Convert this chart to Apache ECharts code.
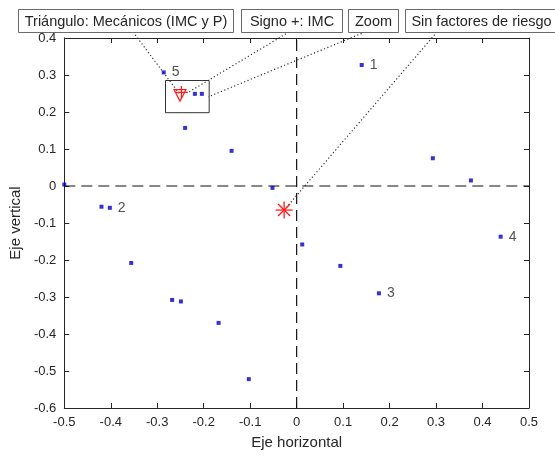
<!DOCTYPE html>
<html><head><meta charset="utf-8">
<script src="https://cdn.jsdelivr.net/npm/echarts@6/dist/echarts.min.js"></script>
<style>html,body{margin:0;padding:0;background:#fff}#c{width:555px;height:456px}</style>
</head><body><div id="c"></div>
<script>
// ---- data ----
const xTickLabels = ['-0.5','-0.4','-0.3','-0.2','-0.1','0','0.1','0.2','0.3','0.4','0.5'];
const yTickLabels = ['-0.6','-0.5','-0.4','-0.3','-0.2','-0.1','0','0.1','0.2','0.3','0.4'];
const pointsX = [0.140,-0.286,-0.219,-0.204,-0.240,-0.140,-0.500,-0.420,-0.402,-0.356,-0.268,-0.249,-0.168,-0.103,-0.052,0.012,0.094,0.177,0.293,0.375,0.439];
const pointsY = [0.327,0.307,0.249,0.249,0.157,0.095,0.004,-0.056,-0.059,-0.208,-0.308,-0.312,-0.370,-0.522,-0.005,-0.158,-0.216,-0.290,0.075,0.015,-0.137];
const pointLabels = ['1','5','','','','','','','2','','','','','','','','','3','','','4'];
const noRiskX = [-0.027], noRiskY = [-0.065];      // asterisco
const mechX = [-0.251], mechY = [0.247];           // triángulo
const imcX = [-0.248], imcY = [0.253];             // signo +
const zoomBoxX = [-0.284, -0.190], zoomBoxY = [0.199, 0.286];
const noteTexts = ['Triángulo: Mecánicos (IMC y P)', 'Signo +: IMC', 'Zoom', 'Sin factores de riesgo'];
const noteTargetX = [-0.251, -0.232, -0.190, -0.027];
const noteTargetY = [0.247, 0.254, 0.241, -0.065];

// ---- layout (pixels) ----
const noteBoxes = [
  {x:18, y:9, w:215, h:23, ax:133},
  {x:241, y:9, w:101, h:23, ax:289},
  {x:348, y:9, w:50, h:23, ax:365},
  {x:405, y:9, w:152, h:23, ax:437}
];
const TXT = '#262626';
const FONT = 'Liberation Sans, Arial, sans-serif';

const chart = echarts.init(document.getElementById('c'), null, {renderer:'canvas'});
const fmtX = v => { const i = Math.round((v+0.5)*10); return xTickLabels[i] ?? ''; };
const fmtY = v => { const i = Math.round((v+0.6)*10); return yTickLabels[i] ?? ''; };

const axCommon = {
  type:'value', interval:0.1,
  axisLine:{show:true, onZero:false, lineStyle:{color:TXT, width:1}},
  axisTick:{show:true, inside:true, length:5, lineStyle:{color:TXT}},
  splitLine:{show:false}
};

const graphics = [];
noteBoxes.forEach((b,i)=>{
  graphics.push({type:'rect', shape:{x:b.x+0.5, y:b.y+0.5, width:b.w, height:b.h},
    style:{fill:'#fff', stroke:'#6a6a6a', lineWidth:1}, z:100});
  graphics.push({type:'text', x:b.x+b.w/2+0.5, y:b.y+b.h/2+1,
    style:{text:noteTexts[i], fill:TXT, font:'14.5px '+FONT, textAlign:'center', textVerticalAlign:'middle'}, z:101});
});

const option = {
  animation:false,
  backgroundColor:'#fff',
  grid:{left:61, top:38, width:468, height:370, show:false},
  xAxis:[
    Object.assign({}, axCommon, {min:-0.5, max:0.5, position:'bottom',
      axisLabel:{formatter:fmtX, color:TXT, fontSize:13, fontFamily:FONT, margin:8},
      name:'Eje horizontal', nameLocation:'middle', nameGap:27,
      nameTextStyle:{color:TXT, fontSize:15, fontFamily:FONT}}),
    Object.assign({}, axCommon, {min:-0.5, max:0.5, position:'top', axisLabel:{show:false}})
  ],
  yAxis:[
    Object.assign({}, axCommon, {min:-0.6, max:0.4, position:'left',
      axisLabel:{formatter:fmtY, color:TXT, fontSize:13, fontFamily:FONT, margin:8},
      name:'Eje vertical', nameLocation:'middle', nameGap:35, nameRotate:90,
      nameTextStyle:{color:TXT, fontSize:15, fontFamily:FONT}}),
    Object.assign({}, axCommon, {min:-0.6, max:0.4, position:'right', axisLabel:{show:false}})
  ],
  graphic: graphics,
  series:[
    {type:'line', data:[[-0.5,0],[0.5,0]], symbol:'none', silent:true,
      lineStyle:{color:'#111', width:1.2, type:[11,6]}, z:1},
    {type:'line', data:[[0,-0.6],[0,0.4]], symbol:'none', silent:true,
      lineStyle:{color:'#111', width:1.2, type:[11,6]}, z:1},
    {type:'scatter', data: pointsX.map((x,i)=>[x, pointsY[i]]), symbol:'rect', symbolSize:4,
      itemStyle:{color:'#0000c8'},
      label:{show:true, position:'right', distance:6, formatter:p=>pointLabels[p.dataIndex],
        color:TXT, fontSize:14, fontFamily:FONT}, z:5},
    // zoom rectangle
    {type:'custom', data:[[zoomBoxX[0], zoomBoxY[0], zoomBoxX[1], zoomBoxY[1]]], z:4,
      renderItem:(params, api)=>{
        const p1 = api.coord([api.value(0), api.value(3)]);
        const p2 = api.coord([api.value(2), api.value(1)]);
        return {type:'rect', shape:{x:Math.round(p1[0])+0.5, y:Math.round(p1[1])+0.5, width:p2[0]-p1[0], height:p2[1]-p1[1]},
          style:{fill:'none', stroke:'#333', lineWidth:1}};
      }},
    // asterisk
    {type:'custom', data:noRiskX.map((x,i)=>[x, noRiskY[i]]), z:6,
      renderItem:(params, api)=>{
        const c = api.coord([api.value(0), api.value(1)]); const r = 8.5, d = 6;
        const s = {stroke:'#ff1a1a', lineWidth:1.3};
        return {type:'group', children:[
          {type:'line', shape:{x1:c[0]-r, y1:c[1], x2:c[0]+r, y2:c[1]}, style:s},
          {type:'line', shape:{x1:c[0], y1:c[1]-r, x2:c[0], y2:c[1]+r}, style:s},
          {type:'line', shape:{x1:c[0]-d, y1:c[1]-d, x2:c[0]+d, y2:c[1]+d}, style:s},
          {type:'line', shape:{x1:c[0]-d, y1:c[1]+d, x2:c[0]+d, y2:c[1]-d}, style:s}
        ]};
      }},
    // triangle (down)
    {type:'custom', data:mechX.map((x,i)=>[x, mechY[i]]), z:6,
      renderItem:(params, api)=>{
        const c = api.coord([api.value(0), api.value(1)]);
        return {type:'polygon', shape:{points:[[c[0]-6,c[1]-5],[c[0]+6,c[1]-5],[c[0],c[1]+6.5]]},
          style:{fill:'none', stroke:'#ff1a1a', lineWidth:1.2}};
      }},
    // plus
    {type:'custom', data:imcX.map((x,i)=>[x, imcY[i]]), z:6,
      renderItem:(params, api)=>{
        const c = api.coord([api.value(0), api.value(1)]); const r = 6.5;
        const s = {stroke:'#ff1a1a', lineWidth:1.2};
        return {type:'group', children:[
          {type:'line', shape:{x1:c[0]-r, y1:c[1], x2:c[0]+r, y2:c[1]}, style:s},
          {type:'line', shape:{x1:c[0], y1:c[1]-r, x2:c[0], y2:c[1]+r}, style:s}
        ]};
      }},
    // dotted annotation lines
    {type:'custom', data:noteTargetX.map((x,i)=>[x, noteTargetY[i], i]), z:3,
      renderItem:(params, api)=>{
        const c = api.coord([api.value(0), api.value(1)]);
        const b = noteBoxes[api.value(2)];
        return {type:'line', shape:{x1:b.ax, y1:b.y+b.h, x2:c[0], y2:c[1]},
          style:{stroke:'#333', lineWidth:1.2, lineDash:[1.2,2.4]}};
      }}
  ]
};
chart.setOption(option);
</script>
</body></html>
